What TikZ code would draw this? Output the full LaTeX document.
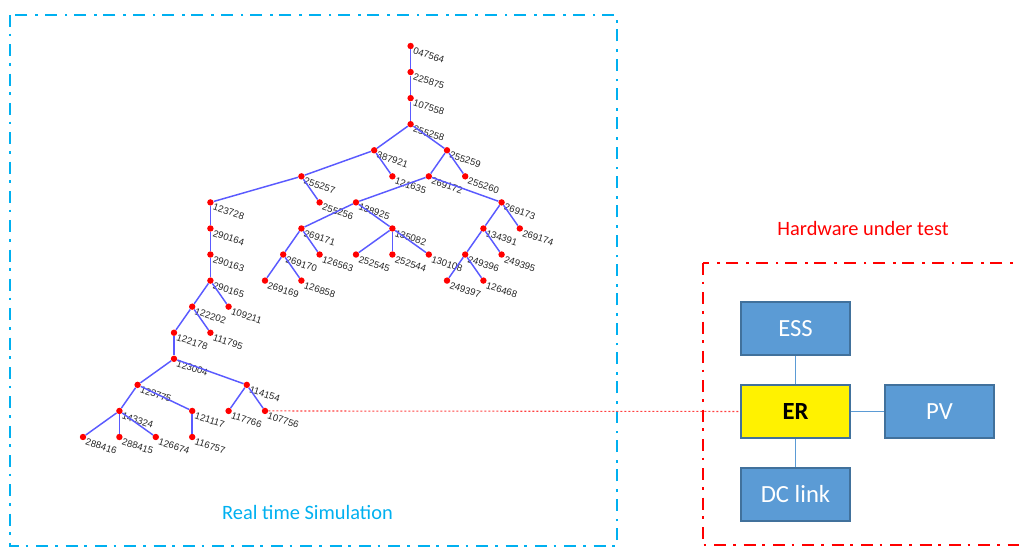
\documentclass[tikz,border=0pt]{standalone}
\usepackage{fontspec}
\setmainfont{Carlito}
\newfontfamily\busfont{Liberation Sans}
\definecolor{simblue}{RGB}{0,176,240}
\definecolor{boxblue}{RGB}{91,155,213}
\definecolor{boxedge}{RGB}{65,113,156}
\definecolor{lineblue}{RGB}{90,90,255}
\definecolor{hwred}{RGB}{255,0,0}

\begin{document}
\begin{tikzpicture}[x=0.75pt, y=-0.75pt,
    bus/.style={circle, fill=red, inner sep=0pt, minimum size=4.8pt},
    tag/.style={anchor=north west, rotate=-18, inner sep=0.5pt, text=black!85,
                font=\busfont\fontsize{7.2}{8}\selectfont},
    branch/.style={draw=lineblue, line width=1.1pt},
    frame/.style={line width=2.2pt, dash pattern=on 9pt off 5pt on 2pt off 6pt},
    unit/.style={rectangle, draw=boxedge, fill=boxblue, line width=1.1pt,
                 minimum width=81.75pt, minimum height=40pt, text=white,
                 font=\fontsize{18.5}{20}\selectfont},
    caption/.style={anchor=base, font=\fontsize{15.3}{17}\selectfont}]
    \clip (0,0) rectangle (1019,548);

    % frames
    \draw[frame, simblue] (10,15) rectangle (617,546);
    \draw[frame, hwred, line width=2pt] (703,263) rectangle (1040,545);
    \node[caption, text=simblue] (simtitle) at (307.5,519) {Real time Simulation};
    \node[caption, text=hwred] (hwtitle) at (863,236) {Hardware under test};

    % feeder tree
    \begin{scope}[xshift=62.25pt, yshift=-34.5pt, x=13.65pt, y=-19.55pt]
    \node[bus, label={[tag]east:047564}] (b047564) at (18,0) {};
    \node[bus, label={[tag]east:225875}] (b225875) at (18,1) {};
    \node[bus, label={[tag]east:107558}] (b107558) at (18,2) {};
    \node[bus, label={[tag]east:255258}] (b255258) at (18,3) {};
    \node[bus, label={[tag]east:387921}] (b387921) at (16,4) {};
    \node[bus, label={[tag]east:255259}] (b255259) at (20,4) {};
    \node[bus, label={[tag]east:255257}] (b255257) at (12,5) {};
    \node[bus, label={[tag]east:121635}] (b121635) at (17,5) {};
    \node[bus, label={[tag]east:269172}] (b269172) at (19,5) {};
    \node[bus, label={[tag]east:255260}] (b255260) at (21,5) {};
    \node[bus, label={[tag]east:123728}] (b123728) at (7,6) {};
    \node[bus, label={[tag]east:255256}] (b255256) at (13,6) {};
    \node[bus, label={[tag]east:138925}] (b138925) at (15,6) {};
    \node[bus, label={[tag]east:269173}] (b269173) at (23,6) {};
    \node[bus, label={[tag]east:290164}] (b290164) at (7,7) {};
    \node[bus, label={[tag]east:269171}] (b269171) at (12,7) {};
    \node[bus, label={[tag]east:135082}] (b135082) at (17,7) {};
    \node[bus, label={[tag]east:134391}] (b134391) at (22,7) {};
    \node[bus, label={[tag]east:269174}] (b269174) at (24,7) {};
    \node[bus, label={[tag]east:290163}] (b290163) at (7,8) {};
    \node[bus, label={[tag]east:269170}] (b269170) at (11,8) {};
    \node[bus, label={[tag]east:126563}] (b126563) at (13,8) {};
    \node[bus, label={[tag]east:252545}] (b252545) at (15,8) {};
    \node[bus, label={[tag]east:252544}] (b252544) at (17,8) {};
    \node[bus, label={[tag]east:130108}] (b130108) at (19,8) {};
    \node[bus, label={[tag]east:249396}] (b249396) at (21,8) {};
    \node[bus, label={[tag]east:249395}] (b249395) at (23,8) {};
    \node[bus, label={[tag]east:290165}] (b290165) at (7,9) {};
    \node[bus, label={[tag]east:269169}] (b269169) at (10,9) {};
    \node[bus, label={[tag]east:126858}] (b126858) at (12,9) {};
    \node[bus, label={[tag]east:249397}] (b249397) at (20,9) {};
    \node[bus, label={[tag]east:126468}] (b126468) at (22,9) {};
    \node[bus, label={[tag]east:122202}] (b122202) at (6,10) {};
    \node[bus, label={[tag]east:109211}] (b109211) at (8,10) {};
    \node[bus, label={[tag]east:122178}] (b122178) at (5,11) {};
    \node[bus, label={[tag]east:111795}] (b111795) at (7,11) {};
    \node[bus, label={[tag]east:123004}] (b123004) at (5,12) {};
    \node[bus, label={[tag]east:123775}] (b123775) at (3,13) {};
    \node[bus, label={[tag]east:114154}] (b114154) at (9,13) {};
    \node[bus, label={[tag]east:143324}] (b143324) at (2,14) {};
    \node[bus, label={[tag]east:121117}] (b121117) at (6,14) {};
    \node[bus, label={[tag]east:117766}] (b117766) at (8,14) {};
    \node[bus, label={[tag]east:107756}] (b107756) at (10,14) {};
    \node[bus, label={[tag]east:288416}] (b288416) at (0,15) {};
    \node[bus, label={[tag]east:288415}] (b288415) at (2,15) {};
    \node[bus, label={[tag]east:126674}] (b126674) at (4,15) {};
    \node[bus, label={[tag]east:116757}] (b116757) at (6,15) {};

    \draw[branch] (b047564) -- (b225875) -- (b107558) -- (b255258);
    \draw[branch] (b255258) -- (b387921);
    \draw[branch] (b255258) -- (b255259);
    \draw[branch] (b387921) -- (b255257);
    \draw[branch] (b387921) -- (b121635);
    \draw[branch] (b255259) -- (b269172);
    \draw[branch] (b255259) -- (b255260);
    \draw[branch] (b255257) -- (b123728);
    \draw[branch] (b255257) -- (b255256);
    \draw[branch] (b269172) -- (b138925);
    \draw[branch] (b269172) -- (b269173);
    \draw[branch] (b123728) -- (b290164) -- (b290163) -- (b290165);
    \draw[branch] (b138925) -- (b269171);
    \draw[branch] (b138925) -- (b135082);
    \draw[branch] (b269173) -- (b134391);
    \draw[branch] (b269173) -- (b269174);
    \draw[branch] (b269171) -- (b269170);
    \draw[branch] (b269171) -- (b126563);
    \draw[branch] (b135082) -- (b252545);
    \draw[branch] (b135082) -- (b252544);
    \draw[branch] (b135082) -- (b130108);
    \draw[branch] (b134391) -- (b249396);
    \draw[branch] (b134391) -- (b249395);
    \draw[branch] (b269170) -- (b269169);
    \draw[branch] (b269170) -- (b126858);
    \draw[branch] (b249396) -- (b249397);
    \draw[branch] (b249396) -- (b126468);
    \draw[branch] (b290165) -- (b122202);
    \draw[branch] (b290165) -- (b109211);
    \draw[branch] (b122202) -- (b122178);
    \draw[branch] (b122202) -- (b111795);
    \draw[branch] (b122178) -- (b123004);
    \draw[branch] (b123004) -- (b123775);
    \draw[branch] (b123004) -- (b114154);
    \draw[branch] (b123775) -- (b143324);
    \draw[branch] (b123775) -- (b121117);
    \draw[branch] (b114154) -- (b117766);
    \draw[branch] (b114154) -- (b107756);
    \draw[branch] (b143324) -- (b288416);
    \draw[branch] (b143324) -- (b288415);
    \draw[branch] (b143324) -- (b126674);
    \draw[branch] (b121117) -- (b116757);
    \end{scope}

    % hardware under test
    \node[unit] (ess) at (795.5,328.5) {ESS};
    \node[unit, fill=yellow, text=black, font=\fontsize{18.5}{20}\selectfont\bfseries] (er) at (795.5,411.5) {ER};
    \node[unit] (pv) at (939.5,411.5) {PV};
    \node[unit] (dclink) at (795.5,494.5) {DC link};

    \draw[boxblue, line width=0.8pt] (ess) -- (er);
    \draw[boxblue, line width=0.8pt] (er) -- (dclink);
    \draw[boxblue, line width=0.8pt] (er) -- (pv);
    \draw[red!75, line width=0.8pt, dash pattern=on 1.5pt off 1.5pt] (b107756) -- (er.west);
\end{tikzpicture}
\end{document}
